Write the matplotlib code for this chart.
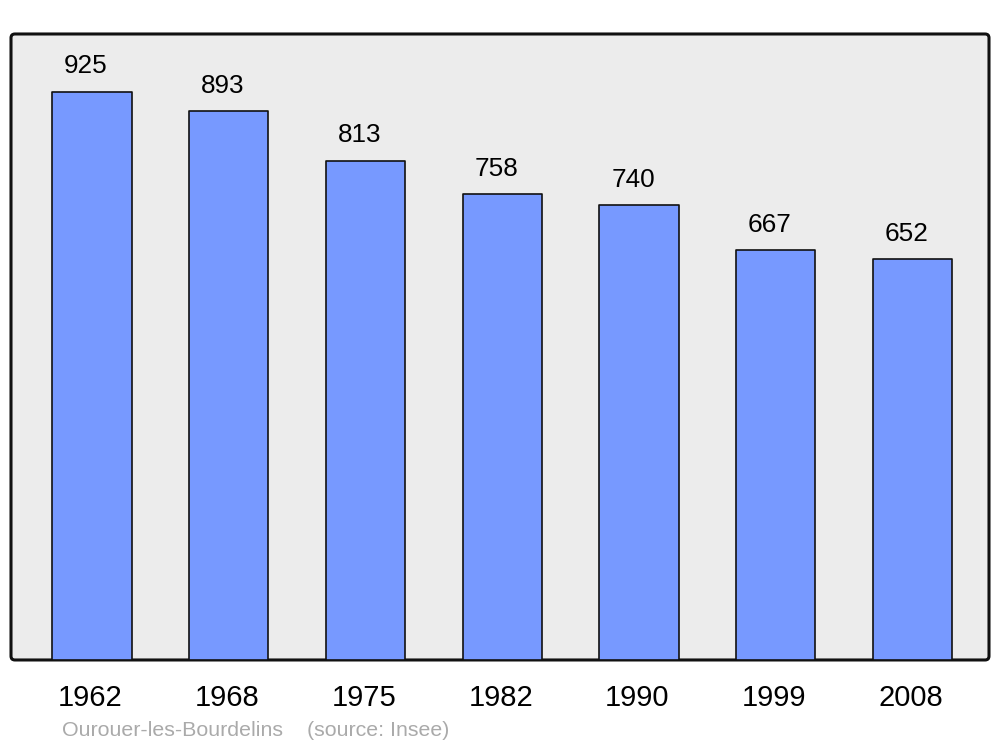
import matplotlib
matplotlib.use("Agg")
import matplotlib.pyplot as plt
from matplotlib.patches import FancyBboxPatch
import matplotlib.transforms as mtransforms

years = ["1962", "1968", "1975", "1982", "1990", "1999", "2008"]
population = [925, 893, 813, 758, 740, 667, 652]
source_text = "Ourouer-les-Bourdelins    (source: Insee)"

plt.rcParams['font.family'] = ['Liberation Sans', 'DejaVu Sans']

fig = plt.figure(figsize=(10, 7.47), dpi=100)
ax = fig.add_axes([0.011, 0.1165, 0.978, 0.838])
ax.patch.set_visible(False)
for s in ax.spines.values():
    s.set_visible(False)

bg = FancyBboxPatch((0, 0), 1, 1, boxstyle="round,pad=0,rounding_size=0.004",
                    mutation_aspect=978/626, transform=ax.transAxes,
                    facecolor="#ececec", edgecolor="#111111", linewidth=2.2,
                    clip_on=False, zorder=0)
ax.add_patch(bg)

x = list(range(len(years)))
bars = ax.bar(x, population, width=0.58, color="#7799ff", edgecolor="#111111",
              linewidth=1.2, zorder=2)
for b in bars:
    b.set_joinstyle("round")

ax.set_xlim(-0.592, 6.56)
ax.set_ylim(0, 1019)

for xi, v in zip(x, population):
    ax.annotate(str(v), (xi, v), xytext=(-4.3, 18.2), textcoords="offset points",
                ha="center", va="center", fontsize=18.8, color="black")

ax.set_xticks(x)
ax.set_xticklabels(years, fontsize=21)
ax.tick_params(axis="x", length=0, pad=17)
ax.set_yticks([])
shift = mtransforms.ScaledTranslation(-1.5 / 100, 0, fig.dpi_scale_trans)
for lbl in ax.get_xticklabels():
    lbl.set_transform(lbl.get_transform() + shift)

fig.text(0.062, 1 - 730/747, source_text, fontsize=15.4, color="#aaaaaa",
         ha="left", va="center")

fig.savefig("out.png", dpi=100)
